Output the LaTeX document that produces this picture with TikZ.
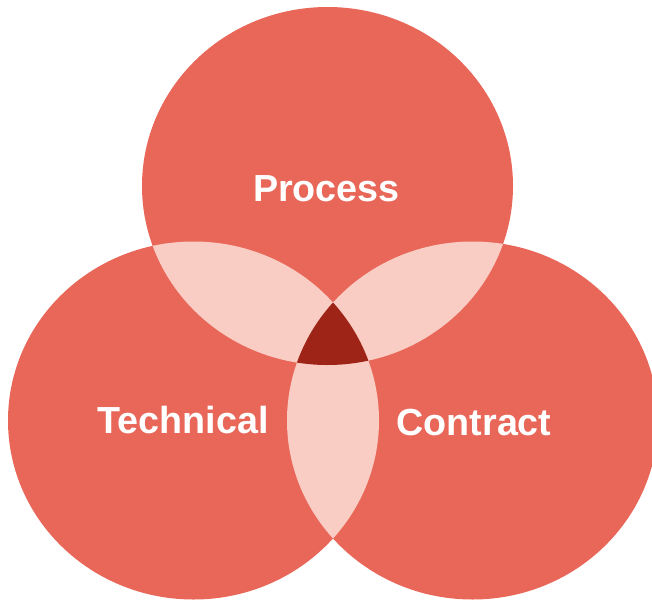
\documentclass[tikz,border=0pt]{standalone}
\usepackage{fontspec}
\setmainfont{Liberation Sans}
\definecolor{vred}{HTML}{E86759}
\definecolor{vpink}{HTML}{F9CDC3}
\definecolor{vdark}{HTML}{9E2418}
\begin{document}
\begin{tikzpicture}[x=1pt,y=-1pt,
  lbl/.style={text=white,font=\fontsize{37.7}{40}\selectfont\bfseries,anchor=base,inner sep=0pt},
  ell/.style={x radius=185.5pt,y radius=179pt}]
\useasboundingbox (0,0) rectangle (652,602);
\def\T{(327.5,186) ellipse [ell]}
\def\L{(193.5,420.5) ellipse [ell]}
\def\R{(472.5,420.5) ellipse [ell]}
% single circles
\fill[vred] \T;
\fill[vred] \L;
\fill[vred] \R;
% pairwise overlaps
\begin{scope}\clip \T; \fill[vpink] \L; \fill[vpink] \R;\end{scope}
\begin{scope}\clip \L; \fill[vpink] \R;\end{scope}
% triple overlap
\begin{scope}\clip \T; \clip \L; \fill[vdark] \R;\end{scope}
\node[lbl] (process) at (326.5,201.5) {Process};
\node[lbl] (technical) at (183,433.5) {Technical};
\node[lbl] (contract) at (474,435.5) {Contract};
\end{tikzpicture}
\end{document}
